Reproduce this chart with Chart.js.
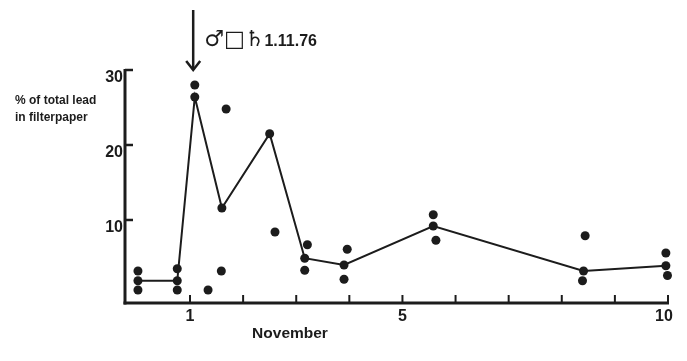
<!DOCTYPE html>
<html><head><meta charset="utf-8">
<script src="https://cdn.jsdelivr.net/npm/chart.js@4"></script>
<style>html,body{margin:0;padding:0;background:#fff}canvas{display:block}</style>
</head><body>
<canvas id="c" width="687" height="361"></canvas>
<script>
// Data
const meanDays   = [0.02, 0.76, 1.09, 1.60, 2.50, 3.16, 3.90, 5.58, 8.41, 9.96];
const meanValues = [1.9,  1.9,  26.4, 11.6, 21.5, 4.9,  4.0,  9.2,  3.2,  3.9];
const sampleDays   = [0.02, 0.02, 0.76, 0.76, 1.09, 1.34, 1.68, 1.59, 2.52, 2.60, 3.21, 3.16, 3.96, 3.90, 5.58, 5.63, 8.44, 8.39, 9.96, 9.99];
const sampleValues = [3.2,  0.67, 3.5,  0.67, 28.0, 0.67, 24.8, 3.2,  31.0, 8.4,  6.7,  3.3,  6.1,  2.1,  10.7, 7.3,  7.9,  1.9,  5.6,  2.6];
const xTickDays   = [1, 2, 3, 4, 5, 6, 7, 8, 9, 10];
const xLabelDays  = [1, 5, 10];
const xLabelTexts = ['1', '5', '10'];
const yTickValues = [10, 20, 30];
const yTickLabels = ['10', '20', '30'];
const xTitle = 'November';
const yTitleLines = ['% of total lead', 'in filterpaper'];
const eventDay = 1.06;
const eventSymbols = '\u2642\u25A1\u2644';
const eventDate = '1.11.76';

const INK = '#1c1c1c';

const axesPlugin = {
  id: 'axesPlugin',
  afterDatasetsDraw(chart) {
    const ctx = chart.ctx;
    const xs = chart.scales.x, ys = chart.scales.y;
    const ca = chart.chartArea;
    const x0 = ca.left, yb = ca.bottom;
    ctx.save();
    ctx.strokeStyle = INK;
    ctx.fillStyle = INK;
    ctx.lineCap = 'butt';
    // y axis
    ctx.lineWidth = 3;
    ctx.beginPath();
    ctx.moveTo(x0, ys.getPixelForValue(yTickValues[yTickValues.length - 1]) - 1);
    ctx.lineTo(x0, yb + 1.5);
    ctx.stroke();
    // x axis
    ctx.beginPath();
    ctx.moveTo(x0 - 1.5, yb);
    ctx.lineTo(xs.getPixelForValue(xTickDays[xTickDays.length - 1]) + 1, yb);
    ctx.stroke();
    // y ticks (inward)
    ctx.lineWidth = 2.5;
    yTickValues.forEach(v => {
      const p = ys.getPixelForValue(v);
      ctx.beginPath(); ctx.moveTo(x0, p); ctx.lineTo(x0 + 8, p); ctx.stroke();
    });
    // x ticks (inward)
    ctx.lineWidth = 2;
    xTickDays.forEach(v => {
      const p = xs.getPixelForValue(v);
      ctx.beginPath(); ctx.moveTo(p, yb); ctx.lineTo(p, yb - 8); ctx.stroke();
    });
    // y tick labels
    ctx.font = 'bold 16px "Liberation Sans", Arial, sans-serif';
    ctx.textAlign = 'right';
    ctx.textBaseline = 'middle';
    yTickValues.forEach((v, i) => {
      ctx.fillText(yTickLabels[i], x0 - 2, ys.getPixelForValue(v) + 8);
    });
    // x tick labels
    ctx.textAlign = 'center';
    xLabelDays.forEach((v, i) => {
      const off = xLabelTexts[i].length > 1 ? -4 : 0;
      ctx.fillText(xLabelTexts[i], xs.getPixelForValue(v) + off, yb + 14);
    });
    // x title
    ctx.font = 'bold 15.5px "Liberation Sans", Arial, sans-serif';
    ctx.fillText(xTitle, 290, yb + 31);
    // y title
    ctx.font = 'bold 12px "Liberation Sans", Arial, sans-serif';
    ctx.textAlign = 'left';
    ctx.fillText(yTitleLines[0], 15, 101);
    ctx.fillText(yTitleLines[1], 15, 118);
    // event arrow
    const ax = xs.getPixelForValue(eventDay);
    ctx.lineWidth = 2.5;
    ctx.beginPath(); ctx.moveTo(ax, 10); ctx.lineTo(ax, 70); ctx.stroke();
    ctx.beginPath(); ctx.moveTo(ax - 7, 61); ctx.lineTo(ax, 70); ctx.lineTo(ax + 7, 61); ctx.stroke();
    // event label
    ctx.textBaseline = 'alphabetic';
    ctx.font = '22px "DejaVu Sans", sans-serif';
    ctx.fillText(eventSymbols, ax + 11, 46);
    const w = ctx.measureText(eventSymbols).width;
    ctx.font = 'bold 16px "Liberation Sans", Arial, sans-serif';
    ctx.fillText(eventDate, ax + 11 + w, 46);
    ctx.restore();
  }
};

new Chart(document.getElementById('c'), {
  type: 'scatter',
  data: {
    datasets: [
      {
        type: 'line',
        data: meanDays.map((d, i) => ({ x: d, y: meanValues[i] })),
        borderColor: INK,
        borderWidth: 2,
        pointRadius: 4.5,
        pointBackgroundColor: INK,
        pointBorderWidth: 0,
        tension: 0,
        fill: false
      },
      {
        data: sampleDays.map((d, i) => ({ x: d, y: sampleValues[i] })),
        pointRadius: 4.5,
        pointBackgroundColor: INK,
        pointBorderWidth: 0,
        showLine: false
      }
    ]
  },
  options: {
    responsive: false,
    animation: false,
    events: [],
    layout: { padding: { left: 125, right: 19, top: 70, bottom: 58 } },
    plugins: { legend: { display: false }, tooltip: { enabled: false } },
    scales: {
      x: { type: 'linear', min: -0.224, max: 10, display: false },
      y: { type: 'linear', min: -1.07, max: 30, display: false }
    },
    clip: false
  },
  plugins: [axesPlugin]
});
</script>
</body></html>
